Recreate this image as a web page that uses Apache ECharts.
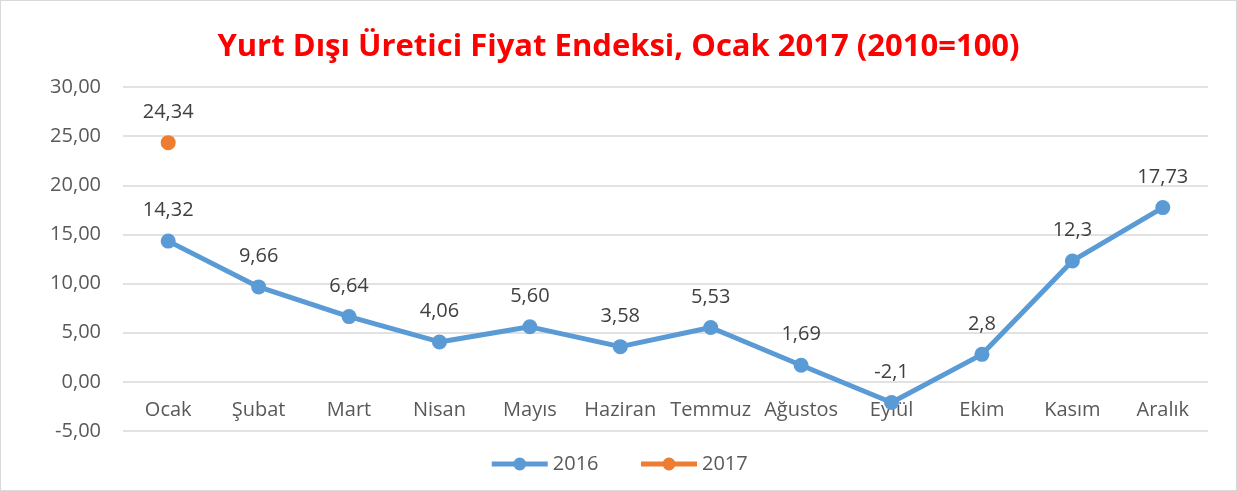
<!DOCTYPE html>
<html>
<head>
<meta charset="utf-8">
<script src="https://cdn.jsdelivr.net/npm/echarts@6/dist/echarts.min.js"></script>
<style>
  html, body { margin: 0; padding: 0; background: #fff; }
  #main { width: 1237px; height: 491px; box-sizing: border-box; border: 1px solid #d9d9d9; margin: 0; }
</style>
</head>
<body>
<div id="main"></div>
<script>
var months = ["Ocak", "Şubat", "Mart", "Nisan", "Mayıs", "Haziran", "Temmuz", "Ağustos", "Eylül", "Ekim", "Kasım", "Aralık"];
var values2016 = [14.32, 9.66, 6.64, 4.06, 5.60, 3.58, 5.53, 1.69, -2.1, 2.8, 12.3, 17.73];
var labels2016 = ["14,32", "9,66", "6,64", "4,06", "5,60", "3,58", "5,53", "1,69", "-2,1", "2,8", "12,3", "17,73"];
var values2017 = [24.34, null, null, null, null, null, null, null, null, null, null, null];
var labels2017 = ["24,34"];

var fontName = "'Open Sans', 'Noto Sans', sans-serif";
var fs = 20;

var myChart = echarts.init(document.getElementById("main"));

// grid: 7 steps of 5 between -5 and 30
var gridTop = 86, gridBottom = 59;
var gridH = 491 - gridTop - gridBottom;
var zeroOffset = -gridH / 7; // move category axis up to the 0 line

var option = {
    animation: false,
    title: {
        text: "Yurt Dışı Üretici Fiyat Endeksi, Ocak 2017 (2010=100)",
        left: 'center',
        top: 26,
        textStyle: {
            color: "#ff0000",
            fontSize: 31,
            fontWeight: 'bold',
            fontFamily: fontName
        }
    },
    legend: {
        bottom: 11,
        left: 'center',
        itemWidth: 56,
        itemHeight: 16,
        itemGap: 40,
        lineStyle: { width: 5 },
        textStyle: { fontSize: fs, color: "#595959", fontFamily: fontName },
        data: ["2016", "2017"]
    },
    grid: {
        left: 122,
        right: 28,
        top: gridTop,
        bottom: gridBottom
    },
    xAxis: {
        type: 'category',
        data: months,
        boundaryGap: true,
        offset: zeroOffset,
        axisLine: { show: false, onZero: false },
        axisTick: { show: false },
        axisLabel: {
            fontSize: fs,
            color: "#595959",
            fontFamily: fontName,
            margin: 19,
            interval: 0
        }
    },
    yAxis: {
        type: 'value',
        min: -5,
        max: 30,
        interval: 5,
        axisLine: { show: false },
        axisTick: { show: false },
        splitLine: { lineStyle: { color: "#d9d9d9", width: 1.5 } },
        axisLabel: {
            fontSize: fs,
            color: "#595959",
            fontFamily: fontName,
            margin: 22,
            formatter: function(v) {
                return v.toFixed(2).replace('.', ',');
            }
        }
    },
    series: [{
        name: "2016",
        type: 'line',
        data: values2016,
        symbol: 'circle',
        symbolSize: 15,
        lineStyle: { color: "#5b9bd5", width: 5 },
        itemStyle: { color: "#5b9bd5" },
        label: {
            show: true,
            position: 'top',
            distance: 13,
            fontSize: fs,
            color: "#404040",
            fontFamily: fontName,
            formatter: function(p) { return labels2016[p.dataIndex]; }
        }
    }, {
        name: "2017",
        type: 'line',
        data: values2017,
        symbol: 'circle',
        symbolSize: 15,
        lineStyle: { color: "#ed7d31", width: 5 },
        itemStyle: { color: "#ed7d31" },
        label: {
            show: true,
            position: 'top',
            distance: 13,
            fontSize: fs,
            color: "#404040",
            fontFamily: fontName,
            formatter: function(p) { return labels2017[p.dataIndex]; }
        }
    }]
};
myChart.setOption(option);
</script>
</body>
</html>
